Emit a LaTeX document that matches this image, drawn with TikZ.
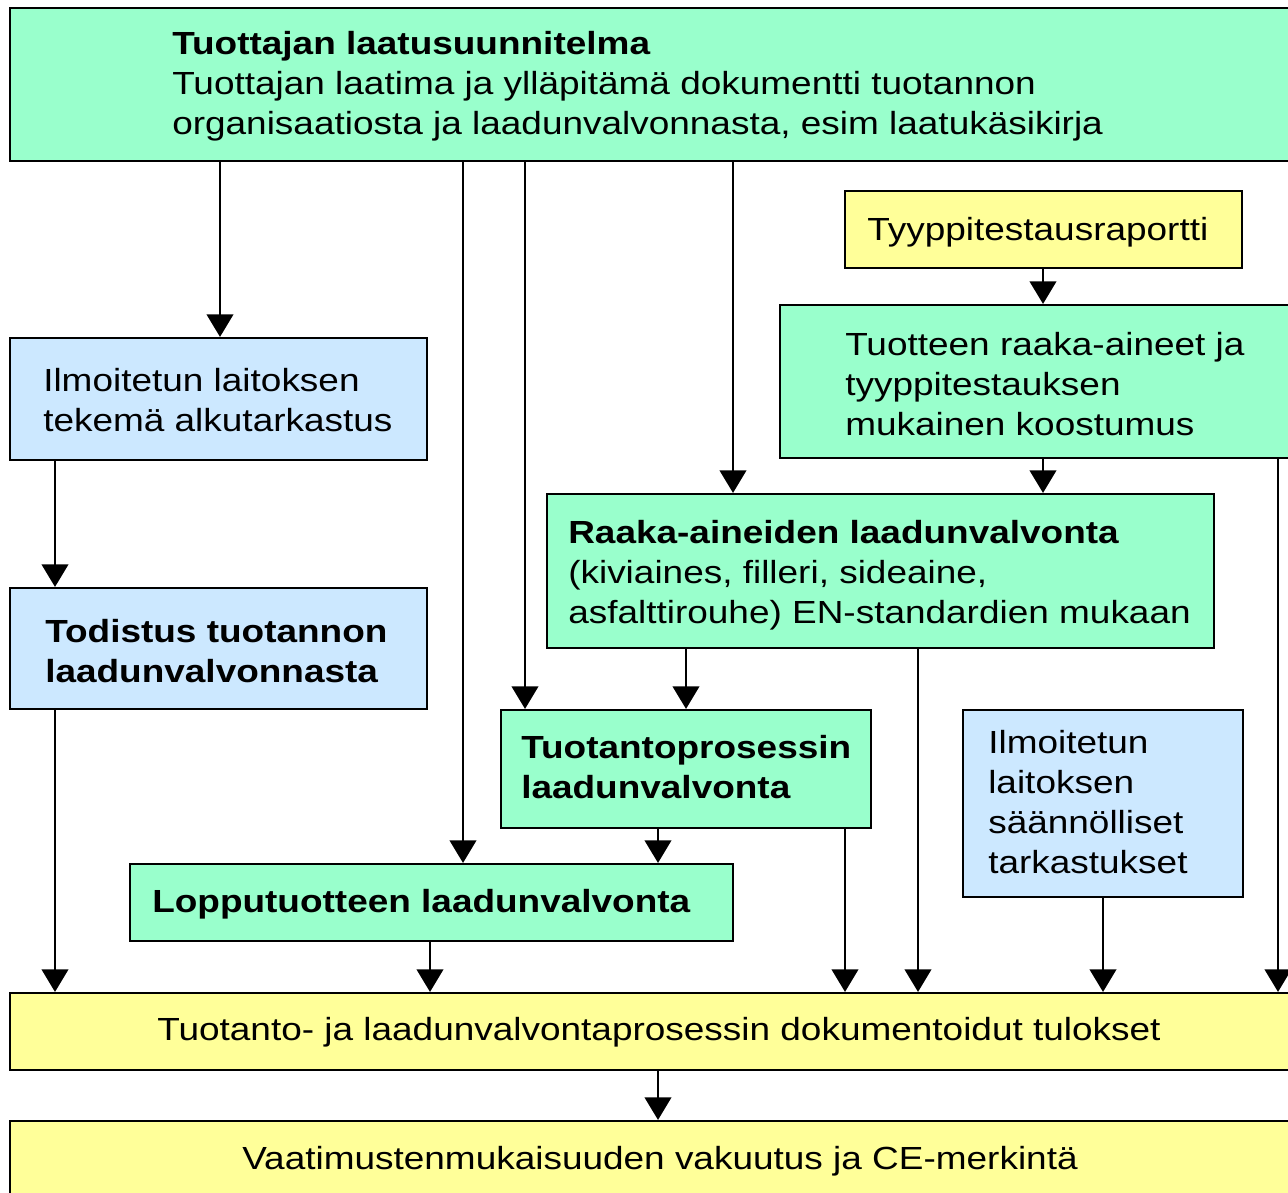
\documentclass[tikz,border=0pt]{standalone}
\usepackage{fontspec}
\setmainfont{Liberation Sans}[FakeStretch=1.155]
\usetikzlibrary{arrows.meta,fit}
\definecolor{cgreen}{HTML}{99FFCC}
\definecolor{cblue}{HTML}{CCE8FF}
\definecolor{cyellow}{HTML}{FFFF99}
\begin{document}
\begin{tikzpicture}[x=0.75pt,y=-0.75pt,
  box/.style={draw=black,line width=1.6pt,inner sep=0pt,rectangle},
  gbox/.style={box,fill=cgreen},
  bbox/.style={box,fill=cblue},
  ybox/.style={box,fill=cyellow},
  txt/.style={anchor=base west,inner sep=0pt,align=left,font=\fontsize{24}{30}\selectfont},
  ctxt/.style={anchor=base,inner sep=0pt,font=\fontsize{24}{30}\selectfont},
  arr/.style={line width=1.7pt,-{Triangle[width=20pt,length=17pt]}}]
\useasboundingbox (0,0) rectangle (1288,1192);
\clip (0,0) rectangle (1288,1192);
\fill[white] (0,0) rectangle (1288,1192);
% boxes
\node[gbox,fit={(10,8) (1310,161)}] (top) {};
\node[ybox,fit={(845,191) (1242,268)}] (tyyppi) {};
\node[gbox,fit={(780,305) (1310,458)}] (tuotteen) {};
\node[bbox,fit={(10,338) (427,460)}] (ilm1) {};
\node[bbox,fit={(10,588) (427,709)}] (todistus) {};
\node[gbox,fit={(547,494) (1214,648)}] (raaka) {};
\node[gbox,fit={(501,710) (871,828)}] (tuotanto) {};
\node[bbox,fit={(963,710) (1243,897)}] (ilm2) {};
\node[gbox,fit={(130,864) (733,941)}] (loppu) {};
\node[ybox,fit={(10,993) (1310,1070)}] (tulokset) {};
\node[ybox,fit={(10,1121) (1310,1210)}] (vaat) {};
% texts (anchored at the baseline of the last line)
\node[txt] (ttop) at (172,134) {\textbf{Tuottajan laatusuunnitelma}\\Tuottajan laatima ja ylläpitämä dokumentti tuotannon\\organisaatiosta ja laadunvalvonnasta, esim laatukäsikirja};
\node[txt] (ttyyppi) at (867,240) {Tyyppitestausraportti};
\node[txt] (ttuotteen) at (845,435) {Tuotteen raaka-aineet ja\\tyyppitestauksen\\mukainen koostumus};
\node[txt] (tilm1) at (43,431) {Ilmoitetun laitoksen\\tekemä alkutarkastus};
\node[txt] (ttod) at (45,682) {\textbf{Todistus tuotannon}\\\textbf{laadunvalvonnasta}};
\node[txt] (traaka) at (568,623) {\textbf{Raaka-aineiden laadunvalvonta}\\(kiviaines, filleri, sideaine,\\asfalttirouhe) EN-standardien mukaan};
\node[txt] (ttuot) at (521,798) {\textbf{Tuotantoprosessin}\\\textbf{laadunvalvonta}};
\node[txt] (tilm2) at (988,873) {Ilmoitetun\\laitoksen\\säännölliset\\tarkastukset};
\node[txt] (tloppu) at (152,912) {\textbf{Lopputuotteen laadunvalvonta}};
\node[ctxt] (ttul) at (659,1040) {Tuotanto- ja laadunvalvontaprosessin dokumentoidut tulokset};
\node[ctxt] (tvaat) at (660,1169) {Vaatimustenmukaisuuden vakuutus ja CE-merkintä};
% columns
\coordinate (x55) at (55,0);
\coordinate (x220) at (220,0);
\coordinate (x430) at (430,0);
\coordinate (x463) at (463,0);
\coordinate (x525) at (525,0);
\coordinate (x658) at (658,0);
\coordinate (x686) at (686,0);
\coordinate (x733) at (733,0);
\coordinate (x845) at (845,0);
\coordinate (x918) at (918,0);
\coordinate (x1043) at (1043,0);
\coordinate (x1103) at (1103,0);
\coordinate (x1278) at (1278,0);
% connectors
\draw[arr] (top.south -| x220) -- (ilm1.north -| x220);
\draw[arr] (top.south -| x463) -- (loppu.north -| x463);
\draw[arr] (top.south -| x525) -- (tuotanto.north -| x525);
\draw[arr] (top.south -| x733) -- (raaka.north -| x733);
\draw[arr] (tyyppi.south -| x1043) -- (tuotteen.north -| x1043);
\draw[arr] (tuotteen.south -| x1043) -- (raaka.north -| x1043);
\draw[arr] (tuotteen.south -| x1278) -- (tulokset.north -| x1278);
\draw[arr] (ilm1.south -| x55) -- (todistus.north -| x55);
\draw[arr] (todistus.south -| x55) -- (tulokset.north -| x55);
\draw[arr] (raaka.south -| x686) -- (tuotanto.north -| x686);
\draw[arr] (raaka.south -| x918) -- (tulokset.north -| x918);
\draw[arr] (tuotanto.south -| x658) -- (loppu.north -| x658);
\draw[arr] (tuotanto.south -| x845) -- (tulokset.north -| x845);
\draw[arr] (ilm2.south -| x1103) -- (tulokset.north -| x1103);
\draw[arr] (loppu.south -| x430) -- (tulokset.north -| x430);
\draw[arr] (tulokset.south -| x658) -- (vaat.north -| x658);
\end{tikzpicture}
\end{document}
